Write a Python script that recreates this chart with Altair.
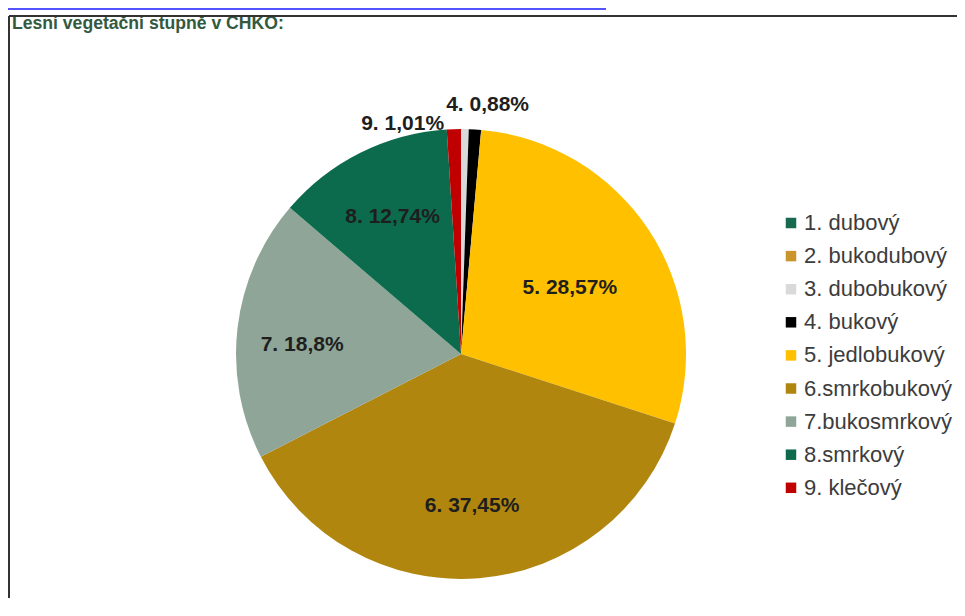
import altair as alt
import pandas as pd

categories = ["1. dubový", "2. bukodubový", "3. dubobukový", "4. bukový",
              "5. jedlobukový", "6.smrkobukový", "7.bukosmrkový", "8.smrkový", "9. klečový"]
values = [0.0, 0.0, 0.55, 0.88, 28.57, 37.45, 18.8, 12.74, 1.01]
labels = ["", "", "", "4. 0,88%", "5. 28,57%", "6. 37,45%", "7. 18,8%", "8. 12,74%", "9. 1,01%"]
colors = ["#17694f", "#c9952c", "#d9d9d9", "#000000", "#ffc000",
          "#b0860f", "#8ea597", "#0b6b4c", "#c00000"]
title_text = "Lesní vegetační stupně v CHKO:"

df = pd.DataFrame({"cat": categories, "val": values, "label": labels,
                   "order": list(range(len(categories)))})

CX, CY = 453, 346
R = 225
FONT = "Liberation Sans"

color_scale = alt.Scale(domain=categories, range=colors)

base = alt.Chart(df).encode(
    theta=alt.Theta("val:Q", stack=True),
    order=alt.Order("order:Q"),
)

pie = base.mark_arc(outerRadius=R).encode(
    x=alt.value(CX), y=alt.value(CY),
    color=alt.Color("cat:N", scale=color_scale, sort=categories,
                    legend=alt.Legend(title=None, orient="none", legendX=772, legendY=204,
                                      symbolType="square", symbolSize=110,
                                      symbolStrokeWidth=0,
                                      labelFont=FONT, labelFontSize=22, labelColor="#3c3c3c",
                                      rowPadding=11.1, labelOffset=2)),
)


def label_layer(k, radius, dx=0, dy=0):
    # one label, positioned by the shared stacked theta of the whole pie
    return base.mark_text(radius=radius, font=FONT, fontSize=21, fontWeight="bold",
                          color="#1e1e1e", dx=dx, dy=dy).encode(
        x=alt.value(CX), y=alt.value(CY),
        text=alt.condition(f"datum.order == {k}", alt.Text("label:N"), alt.value("")),
    )


lab4 = label_layer(3, 251, dx=11, dy=2)
lab5 = label_layer(4, 128, dx=2, dy=5)
lab6 = label_layer(5, 151, dx=-1, dy=1)
lab7 = label_layer(6, 170, dx=10, dy=11)
lab8 = label_layer(7, 153, dy=0)
lab9 = label_layer(8, 232, dx=-51, dy=2)

title = alt.Chart(pd.DataFrame({"t": [title_text]})).mark_text(
    font=FONT, fontSize=17.6, fontWeight="bold", color="#33593f", align="left", baseline="middle"
).encode(text="t:N", x=alt.value(4), y=alt.value(16))

one = pd.DataFrame({"a": [0]})
frame_top = alt.Chart(one).mark_rule(color="#333333", strokeWidth=2).encode(
    x=alt.value(1), x2=alt.value(949), y=alt.value(8))
frame_left = alt.Chart(one).mark_rule(color="#333333", strokeWidth=2).encode(
    x=alt.value(1), y=alt.value(8), y2=alt.value(590))
link_line = alt.Chart(one).mark_rule(color="#1a1aff", strokeWidth=1.5).encode(
    x=alt.value(0), x2=alt.value(598), y=alt.value(1))

chart = alt.layer(pie, lab4, lab5, lab6, lab7, lab8, lab9, title,
                  frame_top, frame_left, link_line).properties(
    width=949, height=590, padding=0, background="white",
    autosize=alt.AutoSizeParams(type="none")
).configure_view(stroke=None)

chart.save("out.html", embed_options={"renderer": "svg", "actions": False})
